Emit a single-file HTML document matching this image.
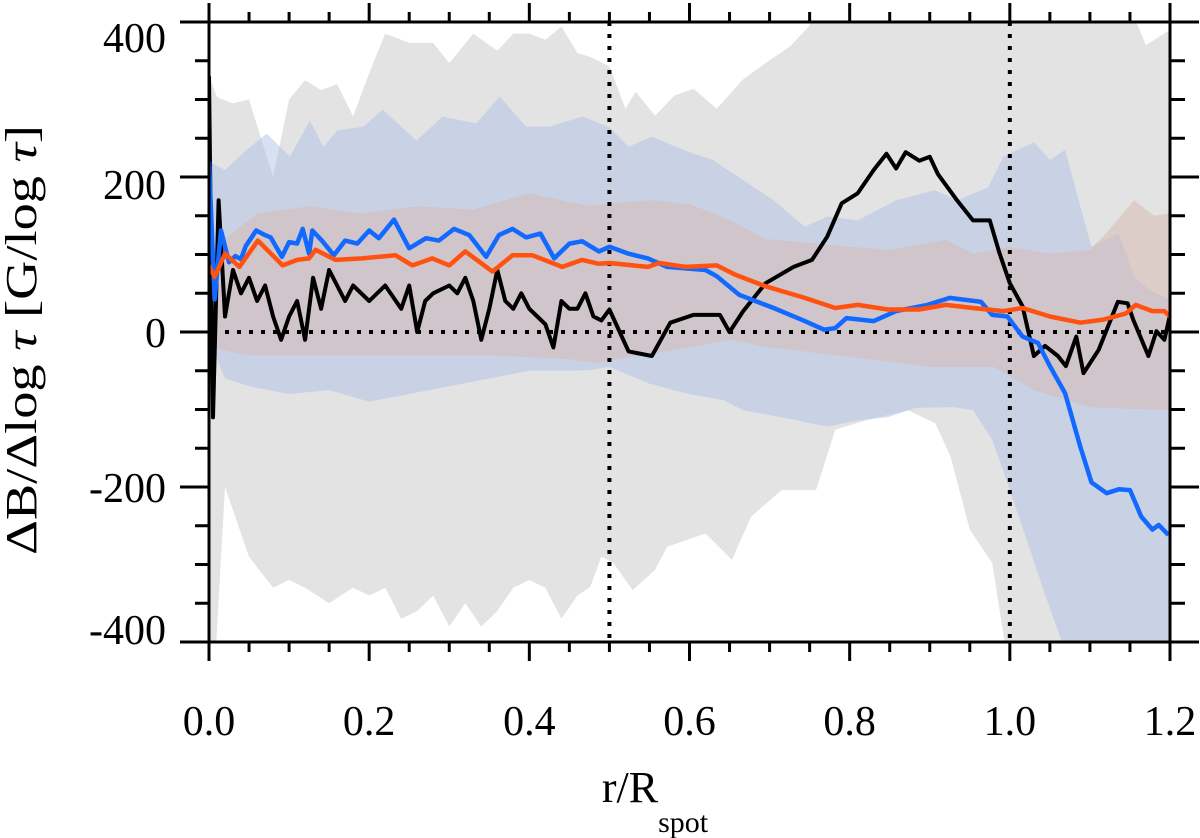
<!DOCTYPE html>
<html><head><meta charset="utf-8"><style>
html,body{margin:0;padding:0;background:#fff;}
svg{display:block;font-family:"Liberation Serif",serif;}
</style></head><body>
<svg id="chart" width="1200" height="838" viewBox="0 0 1200 838">
<defs><clipPath id="plotclip"><rect x="209" y="22" width="961" height="620"/></clipPath></defs>
<g id="bands" clip-path="url(#plotclip)"></g>
<g id="lines" clip-path="url(#plotclip)"></g>
<g id="axes"></g>
<text x="36" y="340" font-size="44" text-anchor="middle" textLength="430" lengthAdjust="spacingAndGlyphs" transform="rotate(-90 36 340)">ΔB/Δlog <tspan font-style="italic">τ</tspan> [G/log <tspan font-style="italic">τ</tspan>]</text>
<text x="655" y="802" font-size="44" text-anchor="middle">r/R<tspan font-size="30" dy="30">spot</tspan></text>
</svg>
<script>
// ---- data ----
const grayUpX = [0,0.01,0.03,0.05,0.08,0.1,0.12,0.14,0.16,0.18,0.2,0.22,0.25,0.28,0.3,0.33,0.36,0.38,0.4,0.42,0.44,0.46,0.476,0.5,0.52,0.533,0.557,0.581,0.605,0.634,0.667,0.695,0.725,0.749,0.76,1.15,1.17,1.2];
const grayUpY = [330,303,295,300,200,300,325,312,320,278,334,385,373,373,347,385,363,385,385,377,394,360,355,343,288,310,279,305,314,288,326,347,368,394,420,420,370,390];
const grayLoX = [0,0.008,0.02,0.05,0.08,0.1,0.12,0.15,0.18,0.2,0.22,0.24,0.26,0.28,0.3,0.32,0.34,0.36,0.38,0.4,0.42,0.44,0.46,0.476,0.49,0.505,0.529,0.557,0.572,0.62,0.653,0.677,0.715,0.758,0.782,0.82,0.873,0.907,0.926,0.95,0.978,0.993,1.0,1.2];
const grayLoY = [-420,-420,-200,-290,-330,-320,-330,-350,-330,-340,-330,-370,-360,-340,-380,-350,-380,-360,-330,-320,-330,-370,-340,-329,-290,-298,-333,-307,-277,-260,-294,-238,-204,-204,-126,-114,-101,-118,-161,-255,-298,-397,-420,-420];
const blueUpX = [0,0.02,0.047,0.072,0.101,0.126,0.143,0.16,0.193,0.217,0.259,0.292,0.334,0.363,0.396,0.425,0.467,0.5,0.524,0.553,0.595,0.629,0.667,0.705,0.744,0.772,0.81,0.858,0.906,0.935,0.973,0.992,1.03,1.05,1.069,1.088,1.102,1.136,1.155,1.174,1.2];
const blueUpY = [220,209,235,256,226,273,239,260,265,287,247,278,269,304,265,265,278,264,239,252,234,222,196,170,136,149,144,170,183,170,187,226,245,222,235,162,110,127,72,54,42];
const blueLoX = [0,0.02,0.05,0.1,0.15,0.2,0.25,0.3,0.35,0.4,0.45,0.476,0.5,0.548,0.595,0.643,0.667,0.715,0.772,0.81,0.848,0.882,0.93,0.954,0.978,0.997,1.021,1.045,1.064,1.08,1.2];
const blueLoY = [-10,-60,-70,-80,-75,-90,-80,-70,-60,-50,-50,-49,-45,-66,-79,-88,-101,-110,-122,-114,-110,-98,-97,-101,-139,-195,-268,-342,-397,-420,-420];
const orangeUpX = [0,0.026,0.06,0.125,0.19,0.26,0.33,0.4,0.476,0.5,0.55,0.6,0.65,0.695,0.75,0.8,0.85,0.92,0.954,1.0,1.05,1.1,1.12,1.155,1.18,1.2];
const orangeUpY = [100,125,153,162,153,162,158,179,162,166,170,165,145,120,115,110,106,119,101,110,101,106,127,170,150,153];
const orangeLoX = [0,0.05,0.2,0.35,0.45,0.48,0.6,0.65,0.7,0.8,0.9,0.98,1.03,1.1,1.2];
const orangeLoY = [-20,-30,-30,-30,-35,-40,-20,-10,-20,-32,-45,-45,-75,-97,-101];
const blackX = [0,0.005,0.012,0.02,0.03,0.04,0.05,0.06,0.07,0.08,0.09,0.1,0.11,0.12,0.13,0.14,0.15,0.16,0.17,0.18,0.2,0.22,0.24,0.25,0.26,0.27,0.28,0.3,0.31,0.32,0.33,0.34,0.35,0.36,0.37,0.38,0.39,0.4,0.41,0.42,0.43,0.44,0.45,0.46,0.47,0.48,0.49,0.5,0.524,0.553,0.576,0.605,0.638,0.65,0.667,0.695,0.73,0.753,0.772,0.79,0.81,0.83,0.846,0.858,0.87,0.887,0.9,0.91,0.934,0.954,0.975,0.987,1.0,1.016,1.03,1.044,1.06,1.07,1.083,1.092,1.111,1.135,1.147,1.154,1.173,1.183,1.193,1.2];
const blackY = [330,-110,170,20,80,50,70,40,60,20,-10,20,40,-10,70,30,80,60,40,60,40,60,30,60,0,40,50,60,50,70,40,-10,30,80,40,30,50,30,20,10,-20,40,30,30,50,20,15,29,-25,-31,12,22,22,0,27,63,84,93,123,166,179,209,230,211,232,221,226,204,170,144,144,102,63,33,-31,-18,-31,-44,-6,-53,-23,39,37,16,-31,1,-10,22];
const blueX = [0,0.007,0.015,0.025,0.033,0.04,0.046,0.059,0.07,0.077,0.091,0.1,0.11,0.117,0.125,0.129,0.141,0.156,0.17,0.185,0.2,0.212,0.231,0.25,0.271,0.287,0.306,0.325,0.346,0.362,0.379,0.396,0.414,0.431,0.45,0.466,0.487,0.5,0.524,0.548,0.572,0.62,0.634,0.662,0.705,0.744,0.768,0.782,0.796,0.83,0.858,0.897,0.925,0.964,0.978,0.997,1.016,1.035,1.05,1.069,1.088,1.102,1.121,1.136,1.15,1.164,1.178,1.186,1.198];
const blueY = [220,42,131,90,98,94,111,131,125,122,97,116,114,133,101,131,118,99,118,114,131,121,145,108,121,118,133,125,97,125,133,122,127,95,114,117,104,110,101,95,84,80,72,48,31,14,3,5,18,14,27,35,44,39,22,20,-6,-14,-44,-79,-148,-194,-208,-203,-204,-238,-255,-249,-262];
const orangeX = [0,0.007,0.02,0.038,0.061,0.092,0.11,0.125,0.133,0.158,0.191,0.212,0.233,0.254,0.279,0.3,0.32,0.354,0.379,0.404,0.441,0.466,0.487,0.5,0.548,0.562,0.595,0.634,0.657,0.695,0.744,0.782,0.81,0.848,0.887,0.92,0.954,0.992,1.016,1.05,1.088,1.117,1.145,1.157,1.178,1.193,1.2];
const orangeY = [86,71,101,84,118,86,93,95,106,93,95,97,99,86,95,86,104,78,99,99,84,93,88,89,84,89,84,86,74,59,44,31,35,29,29,35,31,27,31,20,12,16,24,35,27,27,20];
const xTicks = ['0.0','0.2','0.4','0.6','0.8','1.0','1.2'];
const yTicks = ['400','200','0','-200','-400'];

// ---- scales ----
const X0=209, X1=1170, Y0=332, PPU=0.775;
function sx(v){return X0+(X1-X0)*v/1.2;}
function sy(v){return Y0-v*PPU;}
const NS='http://www.w3.org/2000/svg';
function mk(tag,attrs,parent){const e=document.createElementNS(NS,tag);for(const k in attrs)e.setAttribute(k,attrs[k]);parent.appendChild(e);return e;}
function bandPath(ux,uy,lx,ly){let d='M'+ux.map((x,i)=>sx(x).toFixed(1)+','+sy(uy[i]).toFixed(1)).join('L');for(let i=lx.length-1;i>=0;i--)d+='L'+sx(lx[i]).toFixed(1)+','+sy(ly[i]).toFixed(1);return d+'Z';}
function linePath(xs,ys){return 'M'+xs.map((x,i)=>sx(x).toFixed(1)+','+sy(ys[i]).toFixed(1)).join('L');}

const bands=document.getElementById('bands');
const gb=mk('path',{d:bandPath(grayUpX,grayUpY,grayLoX,grayLoY),fill:'#e3e3e3'},bands);


const bb=mk('path',{d:bandPath(blueUpX,blueUpY,blueLoX,blueLoY),fill:'#a8bde6','fill-opacity':'0.45'},bands);


const ob=mk('path',{d:bandPath(orangeUpX,orangeUpY,orangeLoX,orangeLoY),fill:'#d8b8b0','fill-opacity':'0.5'},bands);



const lines=document.getElementById('lines');
const h0=mk('line',{x1:sx(0.02),x2:sx(1.2),y1:sy(0),y2:sy(0),stroke:'#000','stroke-width':4,'stroke-dasharray':'4 8'},lines);


[0.5,1.0].forEach(v=>{const l=mk('line',{x1:sx(v),x2:sx(v),y1:22,y2:642,stroke:'#000','stroke-width':4,'stroke-dasharray':'4 8'},lines);

});
const lb=mk('path',{d:linePath(blackX,blackY),fill:'none',stroke:'#000','stroke-width':4,'stroke-linejoin':'round'},lines);


const lbl=mk('path',{d:linePath(blueX,blueY),fill:'none',stroke:'#1169ff','stroke-width':4.5,'stroke-linejoin':'round'},lines);


const lo=mk('path',{d:linePath(orangeX,orangeY),fill:'none',stroke:'#ff5210','stroke-width':4.5,'stroke-linejoin':'round'},lines);



// ---- axes ----
const axes=document.getElementById('axes');
const fr=mk('rect',{x:X0,y:22,width:X1-X0,height:620,fill:'none',stroke:'#000','stroke-width':3},axes);


for(let i=0;i<=24;i++){const v=i*0.05,x=sx(v),maj=(i%4===0);
 mk('line',{x1:x,x2:x,y1:642,y2:maj?661:652,stroke:'#000','stroke-width':3},axes);
 mk('line',{x1:x,x2:x,y1:22,y2:maj?3:12,stroke:'#000','stroke-width':3},axes);}
for(let i=0;i<=16;i++){const v=-400+i*50,y=sy(v),maj=(i%4===0);
 mk('line',{x1:X0,x2:maj?180:195,y1:y,y2:y,stroke:'#000','stroke-width':3},axes);
 mk('line',{x1:X1,x2:maj?1199:1185,y1:y,y2:y,stroke:'#000','stroke-width':3},axes);}
xTicks.forEach((t,i)=>{const tx=mk('text',{x:sx(i*0.2),y:735,'font-size':42,'text-anchor':'middle'},axes);tx.textContent=t;

});
const yPos=[52,199,347,502,644];
yTicks.forEach((t,i)=>{const ty=mk('text',{x:166,y:yPos[i],'font-size':42,'text-anchor':'end'},axes);ty.textContent=t;

});
</script>
</body></html>
